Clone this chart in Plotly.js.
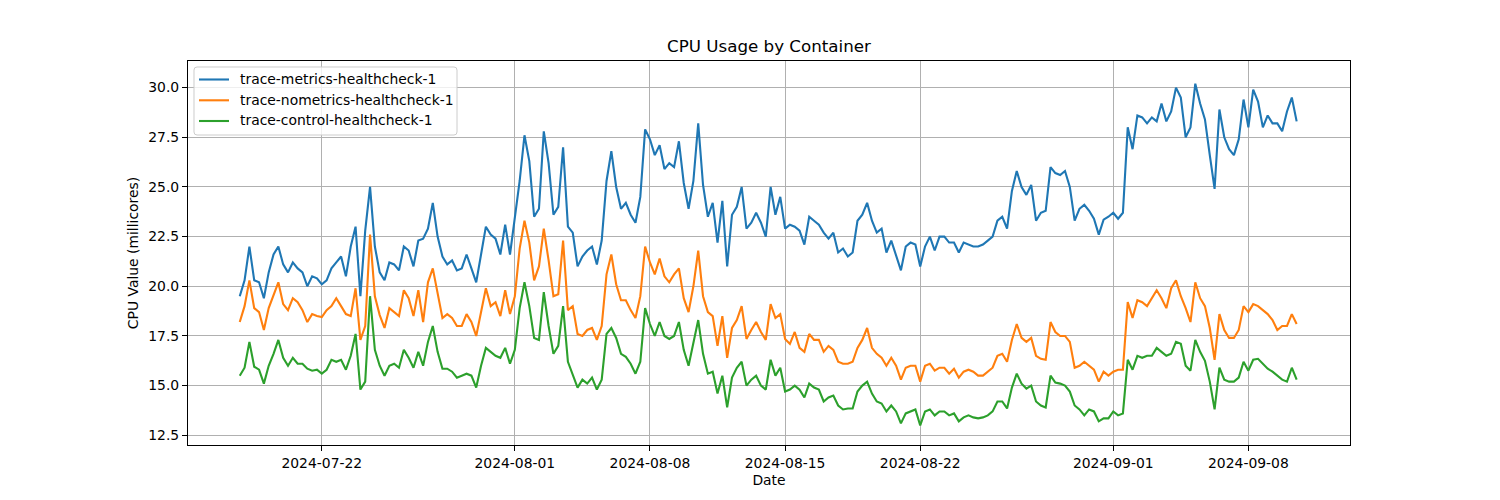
<!DOCTYPE html>
<html>
<head>
<meta charset="utf-8">
<script src="https://cdn.plot.ly/plotly-3.0.1.min.js"></script>
<style>html,body{margin:0;padding:0;background:#fff;}#chart{width:1500px;height:500px;}</style>
</head>
<body>
<div id="chart"></div>
<script>
// Sampling: every 6 hours starting 2024-07-17 18:00
const startTime = '2024-07-17T18:00:00Z';
const stepHours = 6;

const seriesNames = ['trace-metrics-healthcheck-1', 'trace-nometrics-healthcheck-1', 'trace-control-healthcheck-1'];

const metricsValues = [
19.5,20.3,22.0,20.3,20.2,19.4,20.7,21.6,22.0,21.1,
20.7,21.2,20.9,20.7,20.0,20.5,20.4,20.1,20.3,20.9,
21.2,21.5,20.5,22.0,23.0,19.5,22.8,25.0,22.0,20.7,
20.3,21.2,21.1,20.8,22.0,21.8,21.0,22.3,22.4,22.9,
24.2,22.5,21.5,21.1,21.3,20.8,20.9,21.6,20.9,20.2,
21.6,23.0,22.6,22.4,21.6,23.1,21.6,23.5,25.3,27.6,
26.3,23.5,23.9,27.8,26.2,23.6,24.0,27.0,23.0,22.7,
21.0,21.5,21.8,22.0,21.1,22.3,25.3,26.8,25.0,23.9,
24.2,23.6,23.2,24.5,27.9,27.4,26.6,27.1,25.9,26.2,
26.0,27.3,25.2,23.9,25.3,28.2,25.1,23.5,24.2,22.2,
24.3,21.0,23.6,24.0,25.0,22.9,23.2,23.7,23.2,22.5,
25.0,23.6,24.5,22.9,23.1,23.0,22.8,22.1,23.5,23.3,
23.1,22.7,22.4,22.7,21.7,21.9,21.5,21.7,23.3,23.6,
24.2,23.3,22.7,22.9,21.7,22.3,21.6,20.8,22.0,22.2,
22.1,21.0,22.0,22.5,21.8,22.5,22.5,22.2,22.2,21.7,
22.2,22.1,22.0,22.0,22.1,22.3,22.5,23.3,23.5,22.9,
24.8,25.8,25.0,24.6,25.1,23.3,23.7,23.8,26.0,25.7,
25.6,25.8,25.0,23.3,23.9,24.1,23.8,23.4,22.6,23.35,
23.5,23.7,23.4,23.7,28.0,26.9,28.6,28.5,28.2,28.5,
28.3,29.2,28.3,28.8,30.0,29.5,27.5,28.0,30.2,29.2,
28.4,26.6,24.9,28.9,27.5,26.9,26.6,27.4,29.4,28.0,
29.9,29.3,28.0,28.6,28.2,28.2,27.8,28.8,29.5,28.3
];

const nometricsValues = [
18.2,19.0,20.3,18.9,18.7,17.8,18.9,19.6,20.2,19.1,
18.8,19.4,19.2,18.8,18.2,18.6,18.5,18.45,18.8,19.0,
19.4,19.0,18.6,18.5,19.9,17.3,18.0,22.6,19.5,18.55,
17.9,18.9,18.7,18.5,19.8,19.4,18.5,19.8,18.2,20.2,
20.9,19.6,18.4,18.6,18.4,18.0,18.0,18.6,18.2,17.5,
18.8,19.9,19.0,19.2,18.5,19.8,18.6,19.5,21.9,23.3,
22.2,20.3,21.0,22.9,21.3,19.5,19.6,22.3,18.8,19.0,
17.6,17.5,17.8,17.9,17.3,18.0,20.6,21.6,20.1,19.3,
19.3,18.8,18.4,19.5,22.0,21.2,20.6,21.4,20.5,20.2,
20.6,20.9,19.4,18.7,20.0,21.8,19.5,18.7,18.5,17.0,
18.5,16.4,17.9,18.3,19.0,17.35,17.8,18.2,17.7,17.3,
19.1,18.4,18.6,17.35,17.1,17.7,16.9,16.7,17.6,17.3,
17.3,16.7,17.0,16.8,16.2,16.1,16.1,16.2,16.9,17.3,
17.9,16.9,16.6,16.4,16.0,16.4,16.0,15.3,15.9,16.0,
16.0,15.2,16.0,16.1,15.75,15.9,15.9,15.6,15.85,15.4,
15.7,15.8,15.7,15.5,15.5,15.7,15.9,16.5,16.6,16.2,
17.3,18.1,17.4,17.2,17.4,16.5,16.35,16.3,18.2,17.7,
17.5,17.5,17.2,15.9,16.0,16.2,16.0,15.8,15.2,15.7,
15.5,15.7,15.8,15.8,19.2,18.4,19.3,19.2,19.0,19.4,
19.8,19.4,18.9,19.9,20.3,19.5,18.9,18.2,20.2,19.4,
19.0,17.9,16.3,18.6,17.8,17.4,17.4,17.8,19.0,18.7,
19.1,19.0,18.8,18.6,18.3,17.8,18.0,18.0,18.6,18.1
];

const controlValues = [
15.5,15.9,17.2,15.95,15.8,15.1,16.0,16.6,17.3,16.4,
16.0,16.4,16.1,16.1,15.85,15.75,15.8,15.6,15.8,16.3,
16.2,16.3,15.8,16.5,17.6,14.8,15.2,19.5,16.8,16.0,
15.5,16.0,16.1,15.9,16.8,16.4,15.9,16.7,16.0,17.2,
18.0,16.7,15.85,15.85,15.7,15.4,15.5,15.6,15.5,14.9,
16.0,16.9,16.7,16.5,16.4,16.9,16.1,16.8,18.9,20.2,
19.0,17.4,17.3,19.7,18.0,16.6,17.0,19.0,16.2,15.6,
14.9,15.3,15.1,15.4,14.8,15.3,17.6,17.9,17.4,16.6,
16.45,16.1,15.6,16.2,18.9,18.1,17.5,18.2,17.5,17.35,
17.5,18.2,16.8,16.0,17.1,18.3,16.6,15.6,15.7,14.6,
15.5,13.9,15.4,15.9,16.2,15.0,15.3,15.5,15.0,14.8,
16.3,15.5,15.9,14.7,14.8,15.0,14.8,14.4,15.1,14.9,
14.8,14.2,14.4,14.5,14.0,13.8,13.85,13.85,14.7,15.0,
15.2,14.6,14.2,14.1,13.7,14.0,13.7,13.1,13.6,13.7,
13.8,13.0,13.7,13.8,13.5,13.7,13.7,13.5,13.6,13.2,
13.4,13.5,13.4,13.35,13.4,13.5,13.7,14.2,14.2,13.85,
14.9,15.6,15.1,14.85,15.0,14.2,14.0,13.9,15.5,15.15,
15.1,15.0,14.7,14.0,13.8,13.5,13.8,13.7,13.2,13.35,
13.35,13.7,13.5,13.6,16.3,15.8,16.5,16.4,16.5,16.5,
16.9,16.7,16.5,16.6,17.2,17.1,16.0,15.75,17.3,16.7,
16.25,15.2,13.8,15.9,15.3,15.2,15.2,15.4,16.2,15.75,
16.3,16.35,16.1,15.85,15.7,15.5,15.3,15.2,15.9,15.3
];

const xTickVals = ['2024-07-22', '2024-08-01', '2024-08-08', '2024-08-15', '2024-08-22', '2024-09-01', '2024-09-08'];
const xTickText = ['2024-07-22', '2024-08-01', '2024-08-08', '2024-08-15', '2024-08-22', '2024-09-01', '2024-09-08'];
const yTickVals = [12.5, 15.0, 17.5, 20.0, 22.5, 25.0, 27.5, 30.0];

const colors = ['#1f77b4', '#ff7f0e', '#2ca02c'];

function timestamps(n) {
  const t0 = Date.parse(startTime);
  const out = [];
  for (let i = 0; i < n; i++) {
    out.push(new Date(t0 + i * stepHours * 3600000).toISOString().slice(0, 16).replace('T', ' '));
  }
  return out;
}

const allValues = [metricsValues, nometricsValues, controlValues];
const traces = allValues.map((vals, k) => ({
  type: 'scatter',
  mode: 'lines',
  name: seriesNames[k],
  x: timestamps(vals.length),
  y: vals,
  line: {color: colors[k], width: 2.1},
  showlegend: false
}));

// Plot area in pixels (for placing the matplotlib-style legend box)
const PL = 188, PR = 1350, PT = 61, PB = 445;
const fx = px => (px - PL) / (PR - PL);
const fy = py => (PB - py) / (PB - PT);

function roundedBox(x0, y0, x1, y1, r) {
  const P = (x, y) => fx(x).toFixed(5) + ',' + fy(y).toFixed(5);
  return 'M' + P(x0 + r, y0) + ' L' + P(x1 - r, y0) + ' Q' + P(x1, y0) + ' ' + P(x1, y0 + r) +
         ' L' + P(x1, y1 - r) + ' Q' + P(x1, y1) + ' ' + P(x1 - r, y1) +
         ' L' + P(x0 + r, y1) + ' Q' + P(x0, y1) + ' ' + P(x0, y1 - r) +
         ' L' + P(x0, y0 + r) + ' Q' + P(x0, y0) + ' ' + P(x0 + r, y0) + ' Z';
}

const font = 'DejaVu Sans, sans-serif';
const legendRows = [79.5, 100.3, 121];
const shapes = [{
  type: 'path', xref: 'paper', yref: 'paper', layer: 'above',
  path: roundedBox(194, 67, 457, 135, 3),
  fillcolor: 'rgba(255,255,255,0.8)', line: {color: '#cccccc', width: 1}
}];
const annotations = [];
seriesNames.forEach((name, k) => {
  shapes.push({type: 'line', xref: 'paper', yref: 'paper', layer: 'above',
    x0: fx(199), x1: fx(229), y0: fy(legendRows[k]), y1: fy(legendRows[k]),
    line: {color: colors[k], width: 2.1}});
  annotations.push({xref: 'paper', yref: 'paper', x: fx(238), y: fy(legendRows[k] - 0.5),
    xanchor: 'left', yanchor: 'middle', showarrow: false, text: name,
    font: {family: font, size: 13.9, color: '#000'}});
});

const layout = {
  width: 1500, height: 500,
  margin: {l: PL, r: 1500 - PR, t: PT, b: 500 - PB},
  paper_bgcolor: '#ffffff', plot_bgcolor: '#ffffff',
  font: {family: font, size: 13.9, color: '#000'},
  title: {text: 'CPU Usage by Container', font: {family: font, size: 16.7, color: '#000'},
          xref: 'paper', x: 0.5, xanchor: 'center', yref: 'container', y: 0.908, yanchor: 'middle'},
  showlegend: false,
  shapes: shapes,
  annotations: annotations,
  xaxis: {
    type: 'date', range: ['2024-07-15 01:40', '2024-09-13 06:20'],
    tickmode: 'array', tickvals: xTickVals, ticktext: xTickText,
    showgrid: true, gridcolor: '#b0b0b0', gridwidth: 1,
    ticks: 'outside', ticklen: 5, tickwidth: 1, tickcolor: '#000',
    showline: true, linecolor: '#000', linewidth: 1, mirror: true,
    zeroline: false, tickfont: {family: font, size: 13.9, color: '#000'},
    title: {text: 'Date', font: {family: font, size: 13.9, color: '#000'}, standoff: 5}
  },
  yaxis: {
    range: [12.01, 31.34],
    tickmode: 'array', tickvals: yTickVals, tickformat: '.1f',
    showgrid: true, gridcolor: '#b0b0b0', gridwidth: 1,
    ticks: 'outside', ticklen: 5, tickwidth: 1, tickcolor: '#000',
    showline: true, linecolor: '#000', linewidth: 1, mirror: true,
    zeroline: false, tickfont: {family: font, size: 13.9, color: '#000'},
    title: {text: 'CPU Value (millicores)', font: {family: font, size: 13.9, color: '#000'}, standoff: 6}
  }
};

Plotly.newPlot('chart', traces, layout, {displayModeBar: false, staticPlot: true});
</script>
</body>
</html>
